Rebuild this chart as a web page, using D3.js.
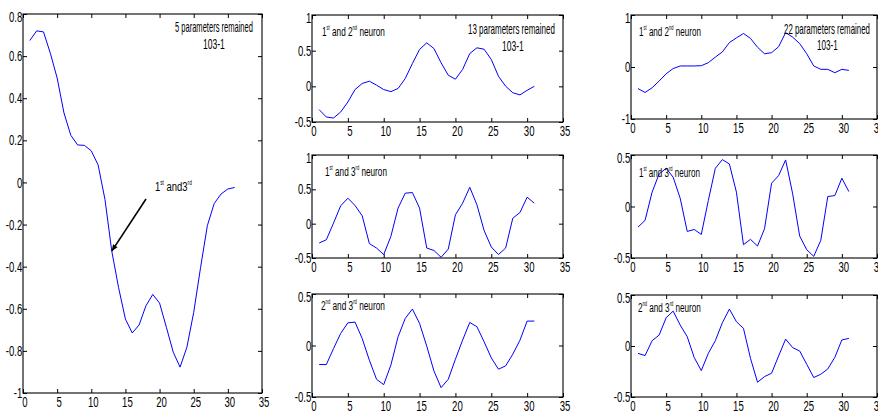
<!DOCTYPE html>
<html>
<head>
<meta charset="utf-8">
<script src="https://cdn.jsdelivr.net/npm/d3@7"></script>
<style>
  html, body { margin: 0; padding: 0; background: #fff; }
  svg { display: block; font-family: "Liberation Sans", Arial, sans-serif; }
</style>
</head>
<body>
<svg id="fig" width="878" height="420"></svg>
<script>
// Time steps shared by every series
const steps = d3.range(1, 32);
const xTicks = [0, 5, 10, 15, 20, 25, 30, 35];

// 5 parameters remained, 1st and 3rd neuron
const p5_13 = [0.674, 0.72, 0.715, 0.614, 0.496, 0.33, 0.224, 0.178, 0.176, 0.15, 0.083,
  -0.08, -0.326, -0.5, -0.649, -0.715, -0.677, -0.586, -0.532, -0.573, -0.688, -0.806,
  -0.877, -0.783, -0.617, -0.405, -0.205, -0.1, -0.055, -0.031, -0.024];

// 13 parameters remained
const p13_12 = [-0.327, -0.43, -0.444, -0.36, -0.22, -0.045, 0.04, 0.072, 0.016, -0.045, -0.074,
  -0.03, 0.109, 0.32, 0.517, 0.61, 0.53, 0.33, 0.156, 0.1, 0.236, 0.46, 0.54, 0.52, 0.376,
  0.142, 0.001, -0.09, -0.12, -0.055, 0.0];
const p13_13 = [-0.282, -0.234, 0.008, 0.26, 0.371, 0.265, 0.115, -0.29, -0.355, -0.45, -0.185,
  0.226, 0.444, 0.453, 0.226, -0.355, -0.39, -0.49, -0.37, 0.129, 0.298, 0.53, 0.274, -0.1,
  -0.34, -0.45, -0.355, 0.08, 0.163, 0.386, 0.298];
const p13_23 = [-0.185, -0.185, -0.03, 0.117, 0.22, 0.227, 0.068, -0.143, -0.328, -0.38, -0.19,
  0.084, 0.263, 0.354, 0.214, -0.006, -0.247, -0.409, -0.328, -0.133, 0.052, 0.224, 0.182,
  0.036, -0.12, -0.23, -0.198, -0.084, 0.052, 0.237, 0.237];

// 22 parameters remained
const p22_12 = [-0.415, -0.49, -0.4, -0.27, -0.13, -0.03, 0.02, 0.02, 0.02, 0.025, 0.083, 0.19,
  0.29, 0.47, 0.56, 0.645, 0.55, 0.38, 0.255, 0.275, 0.39, 0.66, 0.575, 0.45, 0.255, 0.02,
  -0.045, -0.045, -0.11, -0.045, -0.065];
const p22_13 = [-0.2, -0.135, 0.139, 0.316, 0.371, 0.284, 0.08, -0.242, -0.223, -0.271, 0.058,
  0.371, 0.455, 0.413, 0.139, -0.371, -0.319, -0.384, -0.216, 0.226, 0.3, 0.452, 0.123,
  -0.287, -0.419, -0.484, -0.329, 0.097, 0.106, 0.274, 0.145];
const p22_23 = [-0.072, -0.094, 0.052, 0.107, 0.277, 0.342, 0.205, 0.091, -0.114, -0.241, -0.072,
  0.052, 0.228, 0.362, 0.238, 0.173, -0.121, -0.355, -0.3, -0.267, -0.098, 0.068, -0.016,
  -0.049, -0.179, -0.309, -0.277, -0.225, -0.111, 0.059, 0.075];

// Y tick values per panel
const yTicksLeft = [-1, -0.8, -0.6, -0.4, -0.2, 0, 0.2, 0.4, 0.6, 0.8];
const yTicksWide = [-0.5, 0, 0.5, 1];
const yTicksHalf = [-0.5, 0, 0.5];
const yTicksUnit = [-1, 0, 1];

// Label texts: [text, isSuperscript]
const lblRemained5 = [["5 parameters remained", false]];
const lblRemained13 = [["13 parameters remained", false]];
const lblRemained22 = [["22 parameters remained", false]];
const lblRange = [["103-1", false]];
const lbl12 = [["1", false], ["st", true], [" and 2", false], ["nd", true], [" neuron", false]];
const lbl13 = [["1", false], ["st", true], [" and 3", false], ["rd", true], [" neuron", false]];
const lbl23 = [["2", false], ["nd", true], [" and 3", false], ["rd", true], [" neuron", false]];
const lblArrow = [["1", false], ["st", true], [" and3", false], ["rd", true]];

const svg = d3.select("#fig");
const BLUE = "#0000ff";

// Horizontally compressed label spanning [x0, x1] at the given baseline
function label(x0, x1, baseline, parts, size) {
  const t = svg.append("text").attr("font-size", size).attr("fill", "#000");
  let raised = false;
  parts.forEach(([s, sup]) => {
    const ts = t.append("tspan").text(s);
    if (sup) { ts.attr("font-size", size * 0.5).attr("dy", raised ? 0 : -size * 0.45); raised = true; }
    else { if (raised) ts.attr("dy", size * 0.45); raised = false; }
  });
  const w = t.node().getBBox().width;
  t.attr("transform", `translate(${x0},${baseline}) scale(${(x1 - x0) / w},1)`);
}

function panel(cfg) {
  const { x0, x1, y0, y1, ydom, yticks, values } = cfg;
  const x = d3.scaleLinear().domain([0, 35]).range([x0, x1]);
  const y = d3.scaleLinear().domain(ydom).range([y1, y0]);
  const g = svg.append("g");
  const fmt = v => String(v);
  const sx = 0.66;

  // Bottom axis with inward ticks
  const bx = g.append("g").attr("transform", `translate(0,${y1})`)
    .call(d3.axisBottom(x).tickValues(xTicks).tickSizeInner(-4).tickSizeOuter(0).tickPadding(4).tickFormat(fmt));
  // Left axis with inward ticks
  const lx = g.append("g").attr("transform", `translate(${x0},0)`)
    .call(d3.axisLeft(y).tickValues(yticks).tickSizeInner(-4).tickSizeOuter(0).tickPadding(1).tickFormat(fmt));
  // Top and right ticks, no labels
  g.append("g").attr("transform", `translate(0,${y0})`)
    .call(d3.axisTop(x).tickValues(xTicks).tickSizeInner(-4).tickSizeOuter(0).tickFormat(""));
  g.append("g").attr("transform", `translate(${x1},0)`)
    .call(d3.axisRight(y).tickValues(yticks).tickSizeInner(-4).tickSizeOuter(0).tickFormat(""));

  g.selectAll(".domain").remove();
  g.selectAll(".tick line").attr("stroke", "#000").attr("stroke-width", 1);
  g.selectAll(".tick text").attr("font-size", 14.5).attr("fill", "#000")
    .attr("font-family", '"Liberation Sans", Arial, sans-serif');
  bx.selectAll(".tick text").attr("transform", `translate(1.5,0) scale(${sx},1)`);
  lx.selectAll(".tick text").attr("transform", `scale(${sx},1)`);
  // topmost y label sits a little lower than its tick
  lx.selectAll(".tick").filter(d => d === yticks[yticks.length - 1]).select("text")
    .attr("dy", "0.55em");

  // Box
  g.append("rect").attr("x", x0).attr("y", y0).attr("width", x1 - x0).attr("height", y1 - y0)
    .attr("fill", "none").attr("stroke", "#000").attr("stroke-width", 1.1);

  // Series line
  const line = d3.line().x((d, i) => x(steps[i])).y(d => y(d));
  g.append("path").datum(values).attr("d", line)
    .attr("fill", "none").attr("stroke", BLUE).attr("stroke-width", 1);

  return { x, y };
}

// Left column
const L = panel({ x0: 23, x1: 262, y0: 14, y1: 393, ydom: [-1, 0.8], yticks: yTicksLeft, values: p5_13 });
// Middle column
panel({ x0: 312, x1: 563, y0: 15, y1: 122, ydom: [-0.5, 1], yticks: yTicksWide, values: p13_12 });
panel({ x0: 312, x1: 563, y0: 155, y1: 258, ydom: [-0.5, 1], yticks: yTicksWide, values: p13_13 });
panel({ x0: 312, x1: 563, y0: 294, y1: 397, ydom: [-0.5, 0.5], yticks: yTicksHalf, values: p13_23 });
// Right column
panel({ x0: 631, x1: 877, y0: 15, y1: 119, ydom: [-1, 1], yticks: yTicksUnit, values: p22_12 });
panel({ x0: 631, x1: 877, y0: 155, y1: 258, ydom: [-0.5, 0.5], yticks: yTicksHalf, values: p22_13 });
panel({ x0: 631, x1: 877, y0: 295, y1: 397, ydom: [-0.5, 0.5], yticks: yTicksHalf, values: p22_23 });

// Annotations
label(175, 253, 32, lblRemained5, 14);
label(203, 225, 49, lblRange, 14);
label(468, 555, 34, lblRemained13, 14);
label(502, 524, 51, lblRange, 14);
label(784, 870, 34, lblRemained22, 14);
label(817, 838, 50, lblRange, 14);

label(322, 385, 36, lbl12, 13.5);
label(325, 387, 176, lbl13, 13.5);
label(321, 385, 310, lbl23, 13.5);
label(639, 701, 36, lbl12, 13.5);
label(639, 700, 177, lbl13, 13.5);
label(638, 701, 312, lbl23, 13.5);
label(155, 192, 191, lblArrow, 13.5);

// Arrow pointing at the 13th step of the left series
const tip = [L.x(steps[12]), L.y(p5_13[12])];
const tail = [146, 199];
const ang = Math.atan2(tip[1] - tail[1], tip[0] - tail[0]);
svg.append("line").attr("x1", tail[0]).attr("y1", tail[1]).attr("x2", tip[0]).attr("y2", tip[1])
  .attr("stroke", "#000").attr("stroke-width", 1.6);
const ah = 7, aw = 0.4;
svg.append("path")
  .attr("d", `M${tip[0]},${tip[1]}
    L${tip[0] - ah * Math.cos(ang - aw)},${tip[1] - ah * Math.sin(ang - aw)}
    L${tip[0] - ah * Math.cos(ang + aw)},${tip[1] - ah * Math.sin(ang + aw)}Z`)
  .attr("fill", "#000");
</script>
</body>
</html>
